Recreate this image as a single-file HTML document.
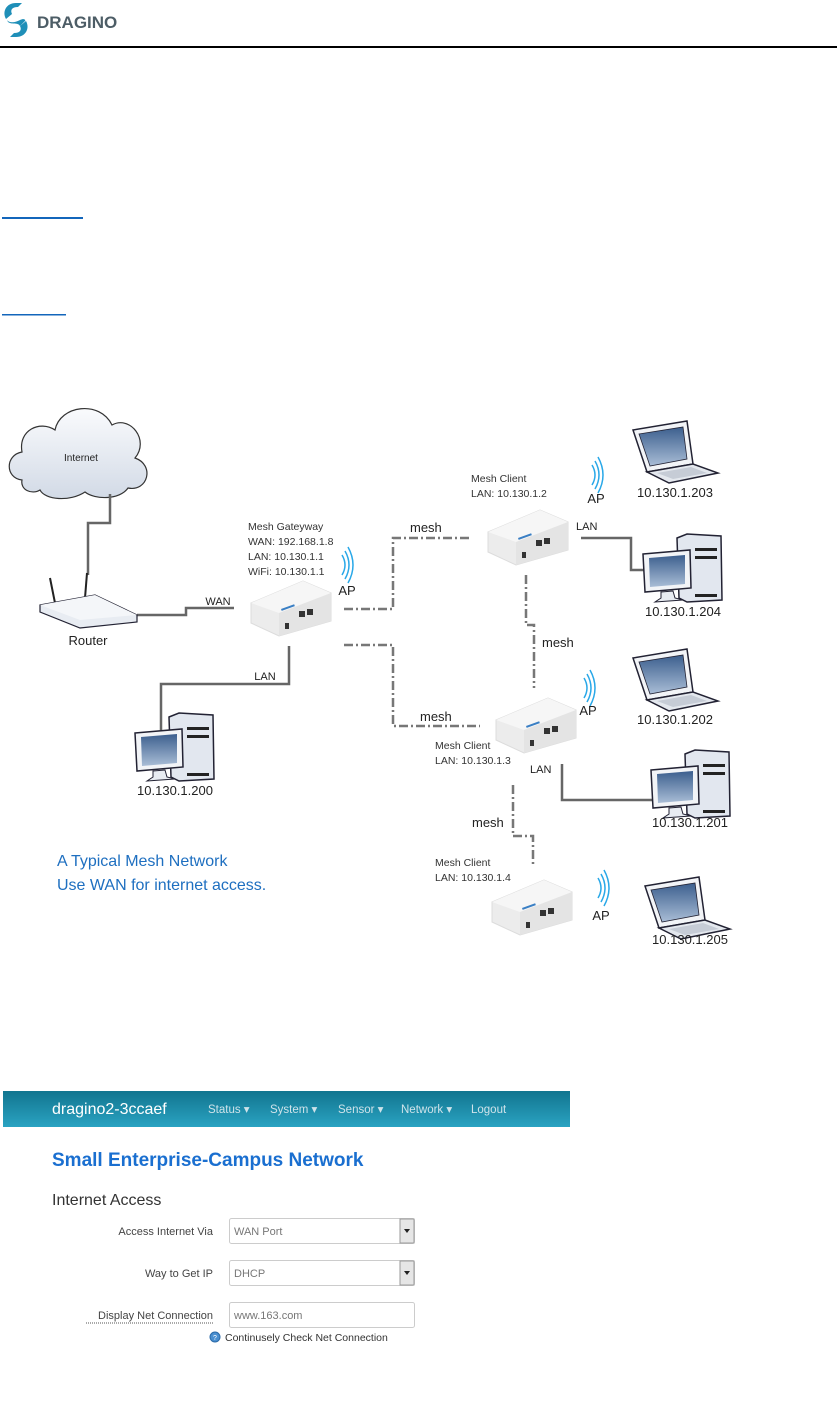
<!DOCTYPE html>
<html><head><meta charset="utf-8"><style>
html,body{margin:0;padding:0;background:#fff;}
body{width:837px;height:1407px;position:relative;overflow:hidden;font-family:"Liberation Sans",sans-serif;}
svg{position:absolute;left:0;top:0;}
</style></head><body>
<svg width="837" height="1407" viewBox="0 0 837 1407" xmlns="http://www.w3.org/2000/svg" font-family="Liberation Sans, sans-serif">
<defs>
<linearGradient id="scr" x1="0" y1="0" x2="0" y2="1"><stop offset="0" stop-color="#3c5f8e"/><stop offset="1" stop-color="#a9bdd6"/></linearGradient>
<linearGradient id="nav" x1="0" y1="0" x2="0" y2="1"><stop offset="0" stop-color="#12758f"/><stop offset="1" stop-color="#2aa3c2"/></linearGradient>
<linearGradient id="cl" x1="0" y1="0" x2="0" y2="1"><stop offset="0" stop-color="#fafbfd"/><stop offset="1" stop-color="#d2dae6"/></linearGradient>
<g id="dev">
<polygon points="0,22 52,0 80,12 80,40 28,55 0,42" fill="#ececec" stroke="#dcdcdc"/>
<polygon points="0,22 52,0 80,12 28,32" fill="#f6f6f6"/>
<polygon points="28,32 80,12 80,40 28,55" fill="#e4e4e4"/>
<rect x="48" y="30" width="6" height="6" fill="#333"/><rect x="56" y="28" width="6" height="6" fill="#333"/>
<rect x="34" y="42" width="4" height="6" fill="#333"/>
<rect x="30" y="28" width="14" height="2" fill="#3a7fc4" transform="rotate(-20 30 28)"/>
</g>
<g id="lap">
<polygon points="0,9 54,0 60,43 14,51" fill="#f2f4f7" stroke="#223" stroke-width="1.5"/>
<polygon points="6,13 50,6 54,38 17,45" fill="url(#scr)" stroke="#223" stroke-width="0.8"/>
<polygon points="14,51 60,43 85,52 36,62" fill="#e4e8ee" stroke="#223" stroke-width="1.5"/>
<polygon points="24,52 58,46 74,52 40,58" fill="#c6ccd6"/>
</g>
<g id="pc">
<polygon points="34,4 44,0 78,2 79,66 44,68 36,64" fill="#e2e7ef" stroke="#223" stroke-width="1.5"/>
<rect x="52" y="14" width="22" height="3" fill="#222"/><rect x="52" y="22" width="22" height="3" fill="#222"/><rect x="52" y="60" width="22" height="3" fill="#222"/>
<polygon points="0,20 47,16 48,54 2,58" fill="#f2f4f7" stroke="#223" stroke-width="1.5"/>
<polygon points="6,24 42,21 42,50 7,53" fill="url(#scr)"/>
<polygon points="18,58 30,57 32,64 40,66 12,68 18,64" fill="#e8ecf2" stroke="#223" stroke-width="1"/>
</g>
<g id="ap"><path d="M0,-10 Q6,0 0,10 M3,-14 Q11,0 3,14 M6,-18 Q16,0 6,18" fill="none" stroke="#29a8e8" stroke-width="1.5"/></g>
</defs>

<!-- header -->
<path d="M16,3 C6,3 2,12 6,19 L12,14 C10,10 12,7 18,7 L22,3Z M16,37 C26,37 30,28 26,21 L20,26 C22,30 20,33 14,33 L10,37Z" fill="#1f8fb8"/>
<path d="M7,20 C10,24 16,22 20,20 C24,18 26,20 25,21 L20,26 C18,22 12,25 8,22Z" fill="#1f8fb8"/>
<text x="37" y="28" font-size="17" font-weight="bold" fill="#4d5d66">DRAGINO</text>
<rect x="0" y="46" width="837" height="2" fill="#000"/>
<rect x="2" y="217" width="81" height="2" fill="#1366bb"/>
<rect x="2" y="314" width="64" height="1.5" fill="#1366bb"/>

<!-- cloud -->
<path d="M22,480 C5,478 5,455 22,452 C18,430 40,420 55,430 C60,405 100,400 112,425 C130,415 150,440 135,458 C155,465 148,492 128,488 C120,500 95,500 85,492 C70,502 45,500 40,490 C32,495 20,490 22,480Z" fill="url(#cl)" stroke="#333" stroke-width="1.2"/>
<text x="81" y="461" font-size="10" text-anchor="middle" fill="#222">Internet</text>

<g fill="none" stroke="#666" stroke-width="2.5">
<polyline points="110,494 110,523 88,523 88,575"/>
<polyline points="137,615 186,615 186,608 234,608"/>
<polyline points="289,646 289,684 161,684 161,730"/>
<polyline points="562,764 562,800 652,800"/>
<polyline points="581,538 631,538 631,570 648,570"/>
</g>
<g fill="none" stroke="#777" stroke-width="2.5" stroke-dasharray="9,3,2,3">
<polyline points="344,609 393,609 393,538 472,538"/>
<polyline points="344,645 393,645 393,726 480,726"/>
<polyline points="526,575 526,625 534,625 534,688"/>
<polyline points="513,785 513,836 533,836 533,866"/>
</g>

<!-- router -->
<line x1="50" y1="578" x2="55" y2="603" stroke="#222" stroke-width="2"/>
<line x1="87" y1="573" x2="85" y2="598" stroke="#222" stroke-width="2"/>
<polygon points="40,605 95,595 137,615 137,622 80,628 40,612" fill="#e8ecf2" stroke="#223" stroke-width="1.2"/>
<polygon points="40,605 95,595 137,615 80,620" fill="#f4f6f9"/>
<text x="88" y="645" font-size="13" text-anchor="middle" fill="#222">Router</text>
<text x="218" y="605" font-size="11" text-anchor="middle" fill="#222">WAN</text>

<!-- gateway -->
<text font-size="10.5" fill="#333"><tspan x="248" y="530">Mesh Gateyway</tspan><tspan x="248" y="545">WAN: 192.168.1.8</tspan><tspan x="248" y="560">LAN: 10.130.1.1</tspan><tspan x="248" y="575">WiFi: 10.130.1.1</tspan></text>
<use href="#ap" x="342" y="565"/>
<text x="347" y="595" font-size="13" text-anchor="middle" fill="#222">AP</text>
<use href="#dev" x="251" y="581"/>
<text x="265" y="680" font-size="11" text-anchor="middle" fill="#222">LAN</text>
<use href="#pc" x="135" y="713"/>
<text x="175" y="795" font-size="13" text-anchor="middle" fill="#222">10.130.1.200</text>

<text x="410" y="532" font-size="13" fill="#222">mesh</text>
<text x="420" y="721" font-size="13" fill="#222">mesh</text>
<text x="542" y="647" font-size="13" fill="#222">mesh</text>
<text x="472" y="827" font-size="13" fill="#222">mesh</text>

<!-- client 1 -->
<text font-size="10.5" fill="#333"><tspan x="471" y="482">Mesh Client</tspan><tspan x="471" y="497">LAN: 10.130.1.2</tspan></text>
<use href="#ap" x="592" y="475"/>
<text x="596" y="503" font-size="13" text-anchor="middle" fill="#222">AP</text>
<use href="#dev" x="488" y="510"/>
<text x="576" y="530" font-size="11" fill="#222">LAN</text>
<use href="#lap" x="633" y="421"/>
<text x="675" y="497" font-size="13" text-anchor="middle" fill="#222">10.130.1.203</text>
<use href="#pc" x="643" y="534"/>
<text x="683" y="616" font-size="13" text-anchor="middle" fill="#222">10.130.1.204</text>

<!-- client 2 -->
<use href="#ap" x="584" y="688"/>
<text x="588" y="715" font-size="13" text-anchor="middle" fill="#222">AP</text>
<use href="#dev" x="496" y="698"/>
<text font-size="10.5" fill="#333"><tspan x="435" y="749">Mesh Client</tspan><tspan x="435" y="764">LAN: 10.130.1.3</tspan></text>
<text x="530" y="773" font-size="11" fill="#222">LAN</text>
<use href="#lap" x="633" y="649"/>
<text x="675" y="724" font-size="13" text-anchor="middle" fill="#222">10.130.1.202</text>
<use href="#pc" x="651" y="750"/>
<text x="690" y="827" font-size="13" text-anchor="middle" fill="#222">10.130.1.201</text>

<!-- client 3 -->
<text x="57" y="866" font-size="16" fill="#1e6fc0">A Typical Mesh Network</text>
<text x="57" y="890" font-size="16" fill="#1e6fc0">Use WAN for internet access.</text>
<text font-size="10.5" fill="#333"><tspan x="435" y="866">Mesh Client</tspan><tspan x="435" y="881">LAN: 10.130.1.4</tspan></text>
<use href="#dev" x="492" y="880"/>
<use href="#ap" x="598" y="888"/>
<text x="601" y="920" font-size="13" text-anchor="middle" fill="#222">AP</text>
<use href="#lap" x="645" y="877"/>
<text x="690" y="944" font-size="13" text-anchor="middle" fill="#222">10.130.1.205</text>

<!-- web UI -->
<rect x="3" y="1091" width="567" height="36" fill="url(#nav)"/>
<text x="52" y="1114" font-size="16" fill="#fff">dragino2-3ccaef</text>
<g font-size="11.5" fill="#cfe3ea">
<text x="208" y="1113">Status ▾</text><text x="270" y="1113">System ▾</text><text x="338" y="1113">Sensor ▾</text><text x="401" y="1113">Network ▾</text><text x="471" y="1113">Logout</text>
</g>
<text x="52" y="1166" font-size="19" font-weight="bold" fill="#1a6fd0">Small Enterprise-Campus Network</text>
<text x="52" y="1205" font-size="16" fill="#333">Internet Access</text>
<g font-size="11" fill="#444" text-anchor="end">
<text x="213" y="1235">Access Internet Via</text>
<text x="213" y="1277">Way to Get IP</text>
<text x="213" y="1319">Display Net Connection</text>
</g>
<line x1="86" y1="1323" x2="213" y2="1323" stroke="#555" stroke-dasharray="1,1"/>
<g stroke="#ccc" fill="#fff">
<rect x="229.5" y="1218.5" width="185" height="25" rx="2"/>
<rect x="229.5" y="1260.5" width="185" height="25" rx="2"/>
<rect x="229.5" y="1302.5" width="185" height="25" rx="2"/>
</g>
<rect x="400" y="1219" width="14" height="24" fill="#e6e6e6" stroke="#999"/>
<rect x="400" y="1261" width="14" height="24" fill="#e6e6e6" stroke="#999"/>
<polygon points="404,1229 410,1229 407,1233" fill="#222"/>
<polygon points="404,1271 410,1271 407,1275" fill="#222"/>
<g font-size="11" fill="#777">
<text x="234" y="1235">WAN Port</text><text x="234" y="1277">DHCP</text><text x="234" y="1319">www.163.com</text>
</g>
<circle cx="215" cy="1337" r="5" fill="#4a8fd0" stroke="#2a6aa8"/>
<text x="215" y="1340" font-size="7" fill="#fff" text-anchor="middle">?</text>
<text x="225" y="1341" font-size="10.5" fill="#333">Continusely Check Net Connection</text>
</svg>
</body></html>
